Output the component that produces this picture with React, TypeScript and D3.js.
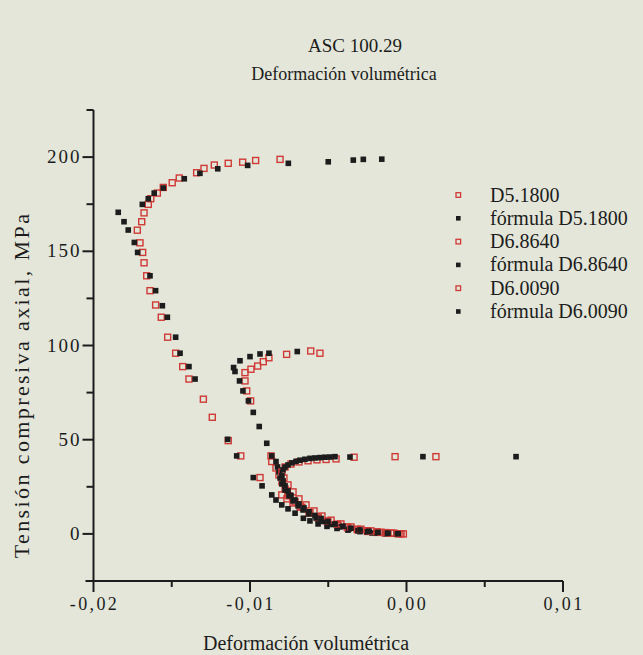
import React from "react";
import * as d3 from "d3";

// ---------- data ----------
const xTicksMajor = [-0.02, -0.01, 0, 0.01];
const xTicksMinor = [-0.015, -0.005, 0.005];
const yTicksMajor = [0, 50, 100, 150, 200];
const yTicksMinor = [-25, 25, 75, 125, 175, 225];
const xTickLabels = ["-0,02", "-0,01", "0,00", "0,01"];
const yTickLabels = ["0", "50", "100", "150", "200"];

const seriesNames = [
  "D5.1800",
  "fórmula D5.1800",
  "D6.8640",
  "fórmula D6.8640",
  "D6.0090",
  "fórmula D6.0090",
];

// D5.1800 experimental
const d5Exp: [number, number][] = [
  [-0.0002, 0], [-0.00054, 0.1], [-0.00093, 0.3], [-0.00137, 0.5], [-0.00188, 0.8],
  [-0.00246, 1.3], [-0.0031, 2.1], [-0.00374, 3.2], [-0.00438, 4.5], [-0.00502, 6.4],
  [-0.00565, 8.5], [-0.00623, 11.1], [-0.0068, 14.3], [-0.00725, 16.4], [-0.00764, 18.6],
  [-0.00797, 20.7], [-0.00936, 29.9], [-0.01059, 41.4], [-0.01139, 49.5], [-0.01241, 61.9],
  [-0.01298, 71.5], [-0.0139, 82.2], [-0.0143, 88.8], [-0.01475, 95.9], [-0.01526, 104.4],
  [-0.01567, 115], [-0.01603, 121.5], [-0.01639, 129.1], [-0.0166, 137], [-0.01677, 143.9],
  [-0.01686, 149.4], [-0.01703, 154.5], [-0.0172, 161.2], [-0.01692, 165.7], [-0.01677, 170.4],
  [-0.0165, 174.9], [-0.01634, 177.9], [-0.01592, 180.9], [-0.01554, 183.9], [-0.01497, 186.4],
  [-0.01452, 188.9], [-0.01341, 191.7], [-0.01294, 194], [-0.01228, 195.8], [-0.01139, 196.7],
  [-0.01047, 197.3], [-0.00964, 198.2], [-0.00808, 198.8],
];

// D5.1800 formula
const d5Formula: [number, number][] = [
  [-0.00054, -0.1], [-0.00137, 0.2], [-0.0022, 0.5], [-0.00297, 1.2], [-0.00374, 2.0],
  [-0.00444, 2.9], [-0.00508, 4.0], [-0.00565, 5.3], [-0.00617, 6.9], [-0.00659, 8.3],
  [-0.00712, 11.0], [-0.00757, 13.3], [-0.00797, 15.4], [-0.00834, 18.0], [-0.00861, 20.7],
  [-0.00923, 25.5], [-0.00979, 29.9], [-0.01085, 41.4], [-0.01143, 50.2],
  [-0.01351, 82.2], [-0.0139, 88.8], [-0.01447, 95.9], [-0.01475, 104.4], [-0.01528, 115],
  [-0.0156, 121.1], [-0.01603, 129.1], [-0.01639, 137], [-0.01718, 149.4], [-0.01739, 154.7],
  [-0.01778, 161.3], [-0.01805, 165.7], [-0.01842, 170.7], [-0.01688, 174.9], [-0.0165, 177.9],
  [-0.01612, 180.9], [-0.01554, 183.6], [-0.0142, 188.5], [-0.0132, 191.4], [-0.01206, 193.8],
  [-0.01015, 195.6], [-0.00755, 196.7], [-0.005, 197.5], [-0.0034, 198.4], [-0.00276, 198.8],
  [-0.00158, 198.9],
];

// D6.8640 experimental
const d6864Exp: [number, number][] = [
  [-0.00035, 0.1], [-0.0008, 0.4], [-0.00131, 0.7], [-0.00188, 1.1], [-0.00252, 1.7],
  [-0.00316, 2.5], [-0.0038, 3.7], [-0.00444, 5.2], [-0.00508, 6.9], [-0.00565, 9.0],
  [-0.00617, 11.4], [-0.00668, 14.1], [-0.00712, 17.0], [-0.00751, 20.2], [-0.00776, 23.9],
  [-0.00796, 27.6], [-0.00815, 31.3], [-0.00834, 35.0], [-0.00861, 38.4], [-0.00866, 41.4],
  [-0.00996, 70.6], [-0.01021, 75.9], [-0.01032, 81.2], [-0.01032, 85.6], [-0.00994, 87.4],
  [-0.00951, 89.1], [-0.00915, 91.4], [-0.00879, 93.5], [-0.00766, 95.3], [-0.00612, 97.1],
  [-0.00553, 95.9],
];

// D6.8640 formula
const d6864Formula: [number, number][] = [
  [-0.00067, 0], [-0.00125, 0.2], [-0.00188, 0.5], [-0.00252, 1.1], [-0.0031, 1.7],
  [-0.00367, 2.7], [-0.00425, 3.7], [-0.00482, 5.0], [-0.00534, 6.6], [-0.00578, 8.5],
  [-0.00623, 10.6], [-0.00661, 12.7], [-0.00693, 14.9], [-0.00725, 17.5], [-0.00751, 20.2],
  [-0.00776, 23.3], [-0.00796, 26.5], [-0.00808, 29.7], [-0.00815, 32.9], [-0.00824, 35.5],
  [-0.00834, 38.4], [-0.00861, 41.4], [-0.00893, 48.1], [-0.00941, 57.0], [-0.00979, 64.5],
  [-0.0101, 70.6], [-0.01045, 75.9], [-0.01067, 81.2], [-0.01096, 86.2], [-0.01105, 88.3],
  [-0.01064, 91.9], [-0.01, 94.1], [-0.00936, 95.5], [-0.00879, 95.9], [-0.00698, 96.8],
];

// D6.0090 experimental
const d6009Exp: [number, number][] = [
  [-0.00042, 0.1], [-0.00099, 0.4], [-0.00163, 0.9], [-0.00227, 1.6], [-0.00291, 2.5],
  [-0.00355, 3.7], [-0.00419, 5.3], [-0.00482, 7.3], [-0.0054, 9.5], [-0.00591, 12.2],
  [-0.00642, 15.4], [-0.00687, 18.6], [-0.00725, 22.3], [-0.00757, 26.0], [-0.00783, 29.7],
  [-0.00796, 32.9], [-0.00776, 35.5], [-0.00738, 37.1], [-0.00687, 38.2], [-0.00629, 38.8],
  [-0.00572, 39.3], [-0.00514, 39.5], [-0.0045, 39.8], [-0.00335, 40.7], [-0.00073, 41.0],
  [0.00188, 41.0],
];

// D6.0090 formula
const d6009Formula: [number, number][] = [
  [-0.00054, 0.1], [-0.00118, 0.4], [-0.00182, 0.8], [-0.0024, 1.4], [-0.00297, 2.1],
  [-0.00355, 3.0], [-0.00406, 4.1], [-0.00457, 5.3], [-0.00502, 6.6], [-0.00546, 8.2],
  [-0.00585, 9.8], [-0.00623, 11.7], [-0.00655, 13.8], [-0.00687, 15.9], [-0.00712, 18.0],
  [-0.00738, 20.4], [-0.00757, 22.8], [-0.00776, 25.5], [-0.00789, 28.1], [-0.00796, 30.8],
  [-0.00789, 34.0], [-0.00776, 35.5], [-0.00757, 36.6], [-0.00732, 37.7], [-0.00706, 38.5],
  [-0.00681, 39.1], [-0.00649, 39.6], [-0.00617, 40.1], [-0.00585, 40.3], [-0.00553, 40.5],
  [-0.00521, 40.7], [-0.00489, 40.8], [-0.00457, 41.0], [-0.00361, 40.8], [0.00105, 41.0],
  [0.007, 41.0],
];

const seriesData = [d5Exp, d5Formula, d6864Exp, d6864Formula, d6009Exp, d6009Formula];
const seriesIsFormula = [false, true, false, true, false, true];

// ---------- layout ----------
const W = 643;
const H = 655;
const BG = "#e3e6d9";
const RED = "#d03a36";
const INK = "#1c1c1c";
const FONT = "'Liberation Serif', 'Times New Roman', serif";

export default function App() {
  const x = d3.scaleLinear().domain([-0.02, 0.01]).range([93.5, 563]);
  const y = d3.scaleLinear().domain([-25, 225]).range([581, 110]);
  const x0 = x.range()[0];
  const y0 = y.range()[0];

  const legendY0 = 195;
  const legendDy = 23.3;

  return (
    <div style={{ position: "fixed", left: 0, top: 0, width: W, height: H, background: BG }}>
      <svg width={W} height={H} style={{ display: "block" }} fontFamily={FONT}>
        <rect x={0} y={0} width={W} height={H} fill={BG} />

        {/* titles */}
        <text x={355} y={52} textAnchor="middle" fontSize={19} fill={INK}>
          ASC 100.29
        </text>
        <text x={344} y={80} textAnchor="middle" fontSize={18} fill={INK}>
          Deformación volumétrica
        </text>

        {/* axes */}
        <line x1={x0} x2={x0} y1={y(225)} y2={y0} stroke={INK} strokeWidth={2} />
        <line x1={x0 - 8} x2={x(0.01)} y1={y0} y2={y0} stroke={INK} strokeWidth={2} />

        {xTicksMajor.map((t, i) => (
          <g key={"xt" + i}>
            <line x1={x(t)} x2={x(t)} y1={y0} y2={y0 + 11} stroke={INK} strokeWidth={2} />
            <text x={x(t) + 1} y={y0 + 29} textAnchor="middle" fontSize={18} letterSpacing={2.4} fill={INK}>
              {xTickLabels[i]}
            </text>
          </g>
        ))}
        {xTicksMinor.map((t, i) => (
          <line key={"xm" + i} x1={x(t)} x2={x(t)} y1={y0} y2={y0 + 6} stroke={INK} strokeWidth={2} />
        ))}
        {yTicksMajor.map((t, i) => (
          <g key={"yt" + i}>
            <line x1={x0 - 11} x2={x0} y1={y(t)} y2={y(t)} stroke={INK} strokeWidth={2} />
            <text x={x0 - 12} y={y(t) + 6} textAnchor="end" fontSize={19} letterSpacing={2} fill={INK}>
              {yTickLabels[i]}
            </text>
          </g>
        ))}
        {yTicksMinor.map((t, i) => (
          <line key={"ym" + i} x1={x0 - 7} x2={x0} y1={y(t)} y2={y(t)} stroke={INK} strokeWidth={2} />
        ))}

        {/* axis titles */}
        <text x={306} y={650} textAnchor="middle" fontSize={20} fill={INK}>
          Deformación volumétrica
        </text>
        <text
          transform={`translate(29, 385) rotate(-90)`}
          textAnchor="middle"
          fontSize={22}
          letterSpacing={2.4}
          fill={INK}
        >
          Tensión compresiva axial, MPa
        </text>

        {/* data */}
        {seriesData.map((pts, si) => (
          <g key={"s" + si}>
            {pts.map((p, pi) =>
              seriesIsFormula[si] ? (
                <rect
                  key={pi}
                  x={x(p[0]) - 2.8}
                  y={y(p[1]) - 2.8}
                  width={5.6}
                  height={5.6}
                  fill={INK}
                />
              ) : (
                <rect
                  key={pi}
                  x={x(p[0]) - 3}
                  y={y(p[1]) - 3}
                  width={6}
                  height={6}
                  fill="none"
                  stroke={RED}
                  strokeWidth={1.4}
                />
              )
            )}
          </g>
        ))}

        {/* legend */}
        {seriesNames.map((name, i) => {
          const cy = legendY0 + i * legendDy;
          return (
            <g key={"lg" + i}>
              {seriesIsFormula[i] ? (
                <rect x={456} y={cy - 2.3} width={4.6} height={4.6} fill={INK} />
              ) : (
                <rect x={456} y={cy - 2.3} width={4.6} height={4.6} fill="none" stroke={RED} strokeWidth={1.3} />
              )}
              <text x={490} y={cy + 6.5} fontSize={20} fill={INK}>
                {name}
              </text>
            </g>
          );
        })}
      </svg>
    </div>
  );
}
